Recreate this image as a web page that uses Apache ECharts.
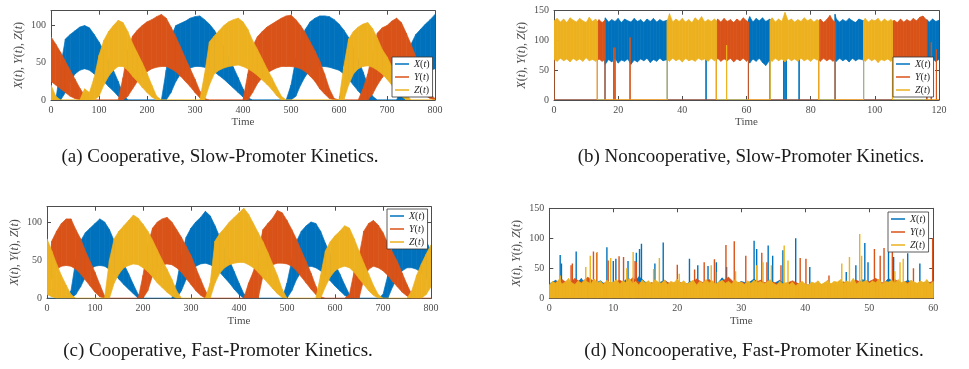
<!DOCTYPE html>
<html>
<head>
<meta charset="utf-8">
<script src="https://cdn.jsdelivr.net/npm/echarts@6/dist/echarts.min.js"></script>
<style>
  html, body { margin: 0; padding: 0; background: #fff; }
  #chart { width: 969px; height: 369px; }
</style>
</head>
<body>
<div id="chart"></div>
<script>
// ---- data ----
// (a) and (c): envelope of each noisy band, sampled every 10 time units (t = 0..800)
const aXhi = [0,0,45,82,88,93,98,100,97,88, 78,66,54,40,25,8,0,0,0,0, 0,0,0,0,40,85,100,103,106,110, 112,113,108,102,94,84,72,58,44,30, 15,3,0,0,0,0,0,0,0,0, 20,55,80,95,105,110,113,113,112,108, 102,94,84,70,55,38,20,5,0,0, 0,0,0,15,45,75,88,95,102,108, 115];
const aXlo = [0,0,0,10,25,35,40,42,40,35, 30,25,18,12,5,0,0,0,0,0, 0,0,0,0,0,10,25,35,40,43, 45,45,44,42,38,33,28,22,16,10, 4,0,0,0,0,0,0,0,0,0, 0,5,20,32,40,44,45,45,44,42, 40,35,28,20,12,5,0,0,0,0, 0,0,0,0,0,8,18,28,35,40, 42];
const aYhi = [85,75,64,52,40,28,16,6,0,0, 0,0,0,0,0,30,68,86,94,100, 105,108,112,115,110,98,85,71,56,42, 28,12,2,0,0,0,0,0,0,0, 0,35,72,85,92,98,102,106,110,113, 114,108,100,90,78,66,52,35,15,2, 0,0,0,0,0,15,35,65,90,97, 100,106,110,104,90,75,58,40,22,8, 2];
const aYlo = [25,20,15,10,5,2,0,0,0,0, 0,0,0,0,0,0,5,15,25,32, 38,42,44,45,45,42,38,32,25,18, 10,3,0,0,0,0,0,0,0,0, 0,0,10,22,30,36,40,43,45,45, 45,44,42,38,32,25,15,8,2,0, 0,0,0,0,0,0,0,8,20,30, 38,42,45,42,38,30,22,14,6,2, 0];
const aZhi = [20,5,0,0,0,0,0,15,10,30, 60,80,92,100,107,104,92,76,63,50, 36,20,5,0,0,0,0,0,0,0, 0,0,35,78,86,93,100,105,108,110, 105,95,80,68,55,42,30,17,5,0, 0,0,0,0,0,0,0,0,0,0, 0,45,82,92,98,102,104,96,83,68, 58,45,32,20,8,0,0,0,0,0, 0];
const aZlo = [0,0,0,0,0,0,0,0,0,0, 5,20,32,40,45,45,40,32,25,17, 10,4,0,0,0,0,0,0,0,0, 0,0,0,20,35,40,43,45,46,47, 45,42,38,33,27,21,14,6,0,0, 0,0,0,0,0,0,0,0,0,0, 0,0,20,35,42,45,46,44,40,35, 28,20,12,5,0,0,0,0,0,0, 0];

const cXhi = [0,0,0,0,0,10,50,75,86,92, 98,104,100,90,75,60,45,32,18,5, 0,0,0,0,0,0,0,20,55,80, 92,100,106,114,108,95,80,65,50,35, 20,6,0,0,0,0,0,0,0,0, 20,50,75,88,95,100,98,88,72,58, 45,32,18,5,0,0,0,0,0,0, 5,30,70,85,92,96,98,95,88,75, 62];
const cXlo = [0,0,0,0,0,0,5,15,28,38, 42,43,42,38,32,25,18,12,6,0, 0,0,0,0,0,0,0,0,10,25, 36,42,45,46,44,40,34,27,20,12, 5,0,0,0,0,0,0,0,0,0, 0,10,25,35,40,42,40,36,30,23, 16,10,4,0,0,0,0,0,0,0, 0,0,15,28,36,40,40,38,33,26, 20];
const cYhi = [20,75,88,98,104,104,90,78,62,48, 34,18,3,0,0,0,0,0,0,0, 30,70,92,100,104,106,100,90,80,68, 56,40,25,10,0,0,0,0,0,0, 0,0,20,35,60,90,98,105,115,112, 102,90,77,62,48,33,16,2,0,0, 0,0,0,5,35,55,88,98,102,96, 86,72,60,48,33,18,5,0,0,0, 0];
const cYlo = [10,28,38,42,43,42,38,32,24,16, 8,2,0,0,0,0,0,0,0,0, 0,10,30,40,44,45,44,40,34,26, 18,10,4,0,0,0,0,0,0,0, 0,0,0,0,0,30,40,44,46,46, 45,42,36,28,20,12,5,0,0,0, 0,0,0,0,0,0,25,38,42,40, 36,30,22,15,8,3,0,0,0,0, 0];
const cZhi = [78,62,45,30,17,5,0,0,0,0, 0,0,0,50,78,88,95,102,109,105, 97,88,76,63,50,38,25,10,0,0, 0,0,0,0,20,75,85,92,100,106, 112,118,110,98,86,74,60,45,30,12, 0,0,0,0,0,0,0,30,62,74, 82,88,95,92,78,62,46,32,17,5, 0,0,0,0,0,0,10,30,45,58, 70];
const cZlo = [5,2,0,0,0,0,0,0,0,0, 0,0,0,0,20,32,40,43,45,44, 40,35,28,20,14,8,3,0,0,0, 0,0,0,0,0,20,33,40,44,46, 47,47,44,40,34,27,20,13,6,1, 0,0,0,0,0,0,0,0,15,28, 36,40,42,40,34,26,18,10,4,0, 0,0,0,0,0,0,0,0,0,5, 15];

// (b): [time, low, high] of each species; on-states are bands, lone bursts are spikes
const bX = [[0,0,0],[15.9,0,0],[15.9,67,133],[16,60,138],[17,68,131],[18,64,135],[19,70,132],[20,62,137],[21,67,130],[22,65,136],[23,69,133],[24,60,131],[25,67,137],[26,64,132],[27,69,135],[28,66,130],[29,70,136],[30,63,132],[31,68,137],[32,65,131],[33,70,135],[34,66,132],[35.3,68,134],[35.3,0,0],
  [47.4,0,0],[47.4,0,110],[47.4,0,0],
  [60.6,0,0],[60.6,68,135],[61,62,140],[62,69,131],[63,65,137],[64,70,133],[65,63,138],[66,58,132],[67.3,67,136],[67.3,0,0],
  [71.6,0,0],[71.6,0,110],[71.6,0,0],[72.0,0,0],[72.0,0,110],[72.0,0,0],[72.4,0,0],[72.4,0,110],[72.4,0,0],
  [76.4,0,0],[76.4,0,110],[76.4,0,0],
  [87.6,0,0],[87.6,68,144],[88,65,136],[89,70,131],[90,66,135],[91,69,132],[92,64,137],[93,70,133],[94,66,130],[95,69,136],[96.5,67,133],[96.5,0,0],
  [116.2,0,0],[116.2,68,135],[117,64,131],[118,69,136],[119,65,132],[120,68,134]];
const bY = [[0,0,70],[0,0,0],[13.5,0,0],[13.5,66,131],[14,69,135],[15,65,130],[15.9,68,134],[15.9,0,0],
  [18.6,0,0],[18.6,0,88],[18.7,0,0],[19.0,0,0],[19.0,0,88],[19.1,0,0],
  [23.7,0,0],[23.7,0,105],[23.7,0,0],
  [50.6,0,0],[50.6,67,130],[51,70,136],[52,65,131],[53,69,137],[54,66,132],[55,70,135],[56,64,130],[57,69,136],[58,66,132],[59,70,138],[60,65,133],[60.6,68,131],[60.6,0,0],
  [82.5,0,0],[82.5,68,132],[83,65,136],[84,70,130],[85,66,135],[86,69,142],[87,65,133],[87.6,69,131],[87.6,0,0],
  [105.5,0,0],[105.5,67,131],[106,70,134],[107,65,130],[108,69,136],[109,66,131],[110,70,135],[111,65,132],[112,69,137],[113,66,133],[114,70,139],[115,65,141],[116.2,69,134],[116.2,0,0],
  [117.6,0,0],[117.6,0,97],[117.6,0,0],[119.2,0,0],[119.2,0,85],[119.2,0,0],[120,0,0]];
const bZ = [[0,68,133],[1,65,137],[2,70,131],[3,66,136],[4,69,130],[5,64,138],[6,70,134],[7,66,131],[8,69,137],[9,65,133],[10,71,130],[11,66,139],[12,68,132],[13,65,136],[13.5,68,131],[13.5,0,0],
  [35.3,0,0],[35.3,68,133],[36,65,145],[37,70,131],[38,66,136],[39,69,132],[40,64,137],[41,70,131],[42,66,135],[43,68,130],[44,65,138],[45,70,133],[46,67,140],[47,69,131],[48,65,135],[49,70,132],[50,66,136],[50.6,68,133],[50.6,0,0],
  [53.8,0,0],[53.8,0,92],[53.8,0,0],
  [67.4,0,0],[67.4,67,134],[68,65,138],[69,70,131],[70,66,136],[71,69,132],[72,64,147],[73,70,133],[74,66,136],[75,69,131],[76,65,135],[77,70,132],[78,66,138],[79,69,133],[80,65,136],[81,70,131],[82,67,135],[82.5,69,133],[82.5,0,0],
  [96.5,0,0],[96.5,68,132],[97,65,137],[98,70,131],[99,66,135],[100,69,133],[101,63,137],[102,68,131],[103,66,136],[104,69,132],[105,65,135],[105.5,68,133],[105.5,0,0],
  [120,0,0]];

// (d): top of the low-level noise (Z every 0.5, X and Y every 1 time unit) and the tall bursts [t, height]
const dZhi = [22,28,25,31,24,27,33,26,23,29, 25,30,27,24,32,26,28,23,30,25, 27,31,24,29,26,33,25,28,22,30, 26,29,24,31,27,25,30,23,28,26,
  32,25,29,24,27,30,22,28,25,31, 26,29,23,27,30,25,28,24,31,26, 27,23,29,25,30,26,28,24,27,31, 25,22,28,24,26,23,27,21,25,28,
  24,22,27,25,29,23,26,30,24,28, 27,31,25,29,26,33,24,28,27,30, 25,29,26,32,24,28,27,30,25,31, 26,28,24,30,27,25,29,26,31,24, 28];
const dXhi = [24,30,20,27,22,33,19,25,29,21, 26,23,31,24,36,27,21,25,30,22, 26,20,28,23,25,27,21,34,24,22, 28,25,32,23,27,24,30,22,26,24, 21,23,19,25,22,20,27,23,25,31, 24,28,22,33,26,23,30,25,24,27, 25];
const dYhi = [22,27,31,24,33,26,35,28,23,27, 25,30,24,34,27,23,26,22,29,24, 27,25,23,32,26,31,24,28,35,25, 27,23,26,30,24,27,22,25,29,24, 23,21,25,20,24,22,27,24,30,25, 28,33,26,24,31,25,27,23,26,24, 29];
const dXsp = [[1.7,72],[1.9,58],[4.2,78],[9.0,85],[10.0,62],[10.4,66],[12.3,62],[13.6,76],[14.1,82],[14.4,91],[16.5,58],[17.8,93],[21.9,66],[23.2,55],[24.8,54],[26.1,60],[27.7,52],[32.0,96],[32.4,82],[34.2,88],[34.9,71],[36.5,80],[38.5,100],[40.7,52],[46.4,44],[47.9,55],[49.3,92],[49.8,60],[53.0,77],[53.8,69],[56.0,75],[57.9,58]];
const dYsp = [[3.4,55],[3.6,58],[6.9,78],[7.4,76],[9.2,63],[10.9,70],[11.6,69],[13.4,62],[13.6,60],[20.0,56],[22.7,48],[24.2,60],[25.8,65],[27.6,89],[28.9,95],[30.7,71],[33.2,76],[34.0,60],[36.2,55],[39.2,67],[40.1,66],[43.7,38],[50.8,82],[51.7,71],[52.3,84],[53.6,82],[56.9,50],[59.9,100]];
const dZsp = [[1.7,38],[5.7,52],[6.4,71],[7.5,77],[9.6,67],[12.1,50],[13.1,77],[16.3,49],[17.2,67],[20.3,41],[25.3,55],[26.0,44],[29.1,45],[32.4,55],[33.4,60],[34.7,55],[36.7,88],[37.3,63],[45.7,58],[46.9,69],[48.5,107],[48.8,71],[54.0,45],[54.8,60],[55.3,66]];

const names = ['X(t)', 'Y(t)', 'Z(t)'];
const captions = [
  '(a) Cooperative, Slow-Promoter Kinetics.',
  '(b) Noncooperative, Slow-Promoter Kinetics.',
  '(c) Cooperative, Fast-Promoter Kinetics.',
  '(d) Noncooperative, Fast-Promoter Kinetics.'
];

// ---- styling ----
const COLORS = ['#0072BD', '#D95319', '#EDB120'];
const AX = '#4d4d4d';
const FONT = 'Liberation Serif';

const slowT = [];
for (let t = 0; t <= 800; t += 10) slowT.push(t);
const fineT = [];
for (let i = 0; i <= 120; i++) fineT.push(i / 2);
const unitT = [];
for (let t = 0; t <= 60; t++) unitT.push(t);

function band(ts, lo, hi) {
  return ts.map((t, i) => [t, lo ? lo[i] : 0, hi[i]]);
}

function bandSeries(name, color, g, data) {
  return {
    type: 'custom', name, xAxisIndex: g * 2, yAxisIndex: g * 2,
    data, clip: true, silent: true, itemStyle: { color },
    renderItem(params, api) {
      const i = params.dataIndexInside;
      if (i >= params.dataInsideLength - 1) return null;
      const t0 = api.value(0), t1 = api.value(0, i + 1);
      const pts = [
        api.coord([t0, api.value(1)]), api.coord([t0, api.value(2)]),
        api.coord([t1, api.value(2, i + 1)]), api.coord([t1, api.value(1, i + 1)])
      ];
      return { type: 'polygon', shape: { points: pts }, style: { fill: color, stroke: color, lineWidth: 0.7 } };
    }
  };
}

function spikeSeries(name, color, g, data) {
  return {
    type: 'custom', name, xAxisIndex: g * 2, yAxisIndex: g * 2,
    data, clip: true, silent: true, itemStyle: { color },
    renderItem(params, api) {
      const p0 = api.coord([api.value(0), 0]);
      const p1 = api.coord([api.value(0), api.value(1)]);
      return { type: 'line', shape: { x1: p0[0], y1: p0[1], x2: p1[0], y2: p1[1] }, style: { stroke: color, lineWidth: 1.4 } };
    }
  };
}

const grids = [
  { left: 51, top: 10.7, width: 384, height: 89.3 },
  { left: 554, top: 10.7, width: 385, height: 89.3 },
  { left: 47, top: 206.7, width: 384, height: 91.6 },
  { left: 549.3, top: 208.3, width: 384, height: 90 }
];
const panelAxes = [
  { xMax: 800, xStep: 100, yMax: 120 },
  { xMax: 120, xStep: 20, yMax: 150 },
  { xMax: 800, xStep: 100, yMax: 120 },
  { xMax: 60, xStep: 10, yMax: 150 }
];
const legendPos = [
  { left: 392, top: 57 }, { left: 893, top: 57 },
  { left: 387, top: 209 }, { left: 888, top: 212 }
];
const captionPos = [[220, 157], [751, 157], [218, 351], [754, 351]];

const labelStyle = { fontFamily: FONT, fontSize: 10, color: AX };
const nameStyle = { fontFamily: FONT, fontSize: 11, color: AX };
const italic = { fontFamily: FONT, fontSize: 12, fontStyle: 'italic', color: AX };
const xAxis = [], yAxis = [];
panelAxes.forEach((p, g) => {
  const line = { onZero: false, lineStyle: { color: AX, width: 1 } };
  const tick = { inside: true, length: 4, lineStyle: { color: AX } };
  xAxis.push({
    type: 'value', gridIndex: g, min: 0, max: p.xMax, interval: p.xStep, position: 'bottom',
    axisLine: line, axisTick: tick, splitLine: { show: false },
    axisLabel: Object.assign({ margin: 5 }, labelStyle),
    name: 'Time', nameLocation: 'middle', nameGap: 17, nameTextStyle: nameStyle
  });
  xAxis.push({
    type: 'value', gridIndex: g, min: 0, max: p.xMax, interval: p.xStep, position: 'top',
    axisLine: line, axisTick: tick, splitLine: { show: false }, axisLabel: { show: false }
  });
  yAxis.push({
    type: 'value', gridIndex: g, min: 0, max: p.yMax, interval: 50, position: 'left',
    axisLine: line, axisTick: tick, splitLine: { show: false },
    axisLabel: Object.assign({ margin: 5, showMaxLabel: p.yMax === 150 }, labelStyle),
    name: '{i|X}({i|t}), {i|Y}({i|t}), {i|Z}({i|t})', nameLocation: 'middle', nameGap: 26,
    nameTextStyle: { fontFamily: FONT, fontSize: 12, color: AX, rich: { i: italic } }
  });
  yAxis.push({
    type: 'value', gridIndex: g, min: 0, max: p.yMax, interval: 50, position: 'right',
    axisLine: line, axisTick: tick, splitLine: { show: false }, axisLabel: { show: false }
  });
});

const legend = legendPos.map(pos => ({
  left: pos.left, top: pos.top, orient: 'vertical', data: names,
  icon: 'rect', itemWidth: 14, itemHeight: 1.5, itemGap: 3,
  padding: [2, 3, 2, 3], backgroundColor: '#fff', borderColor: '#333', borderWidth: 0.8,
  selectedMode: false,
  formatter: n => '{i|' + n[0] + '}(' + '{i|t})',
  textStyle: { fontFamily: FONT, fontSize: 10, color: '#262626', rich: { i: { fontFamily: FONT, fontSize: 10, fontStyle: 'italic', color: '#262626' } } }
}));

const series = [
  bandSeries(names[0], COLORS[0], 0, band(slowT, aXlo, aXhi)),
  bandSeries(names[1], COLORS[1], 0, band(slowT, aYlo, aYhi)),
  bandSeries(names[2], COLORS[2], 0, band(slowT, aZlo, aZhi)),

  bandSeries(names[0], COLORS[0], 1, bX),
  bandSeries(names[1], COLORS[1], 1, bY),
  bandSeries(names[2], COLORS[2], 1, bZ),

  bandSeries(names[0], COLORS[0], 2, band(slowT, cXlo, cXhi)),
  bandSeries(names[1], COLORS[1], 2, band(slowT, cYlo, cYhi)),
  bandSeries(names[2], COLORS[2], 2, band(slowT, cZlo, cZhi)),

  bandSeries(names[0], COLORS[0], 3, band(unitT, null, dXhi)),
  spikeSeries(names[0], COLORS[0], 3, dXsp),
  bandSeries(names[1], COLORS[1], 3, band(unitT, null, dYhi)),
  spikeSeries(names[1], COLORS[1], 3, dYsp),
  bandSeries(names[2], COLORS[2], 3, band(fineT, null, dZhi)),
  spikeSeries(names[2], COLORS[2], 3, dZsp)
];

const graphic = captions.map((text, k) => ({
  type: 'text', x: captionPos[k][0], y: captionPos[k][1],
  style: { text, fontFamily: FONT, fontSize: 19, fill: '#1a1a1a', align: 'center', verticalAlign: 'middle' }
}));

const chart = echarts.init(document.getElementById('chart'));
chart.setOption({
  animation: false,
  backgroundColor: '#fff',
  grid: grids,
  xAxis, yAxis, legend, series, graphic
});
</script>
</body>
</html>
